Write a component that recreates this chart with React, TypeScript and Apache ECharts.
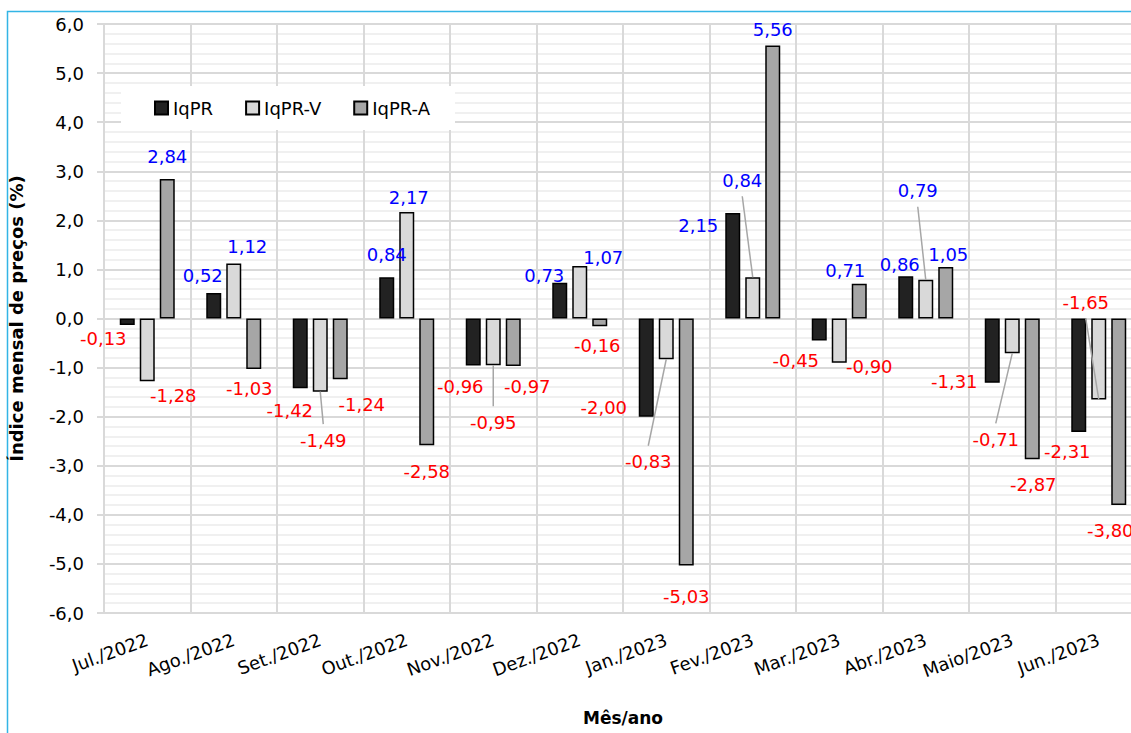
import React, { useEffect, useRef } from 'react';
import * as echarts from 'echarts';

// ---------- data ----------
const MONTHS = [
  'Jul./2022', 'Ago./2022', 'Set./2022', 'Out./2022', 'Nov./2022', 'Dez./2022',
  'Jan./2023', 'Fev./2023', 'Mar./2023', 'Abr./2023', 'Maio/2023', 'Jun./2023',
];
const IQPR = [-0.13, 0.52, -1.42, 0.84, -0.96, 0.73, -2.0, 2.15, -0.45, 0.86, -1.31, -2.31];
const IQPR_V = [-1.28, 1.12, -1.49, 2.17, -0.95, 1.07, -0.83, 0.84, -0.9, 0.79, -0.71, -1.65];
const IQPR_A = [2.84, -1.03, -1.24, -2.58, -0.97, -0.16, -5.03, 5.56, 0.71, 1.05, -2.87, -3.8];
const SERIES_NAMES = ['IqPR', 'IqPR-V', 'IqPR-A'];
const Y_MIN = -6;
const Y_MAX = 6;
const Y_STEP = 1;
// indices of IqPR-V labels that carry a leader line
const LEADERS_V = [2, 4, 6, 7, 9, 10, 11];

// ---------- label placement (style, pixel offsets from default label spot) ----------
const OFF_0 = [[-24, 0], [-11, -3.5], [-10.5, 8], [0, -9], [-13, 6.5], [-15.5, 7], [-42.5, -23], [-34.5, 27], [-23.5, 6], [-6, 2], [-38, -15], [-11.5, 6]];
const OFF_1 = [[26, 0], [13.5, -3.5], [3, 34.5], [2, 0], [0, 43], [23.5, 6], [-18, 88.5], [-10.5, -83], [30, -10], [-8, -75], [-16.5, 72], [-13, -111]];
const OFF_2 = [[0, -9], [-4.5, 5.5], [21.5, 11.5], [0, 12.5], [14, 6], [-2.5, 5.5], [0, 17], [0, -2.5], [-14, 1], [2.5, 2], [1, 11.5], [-8.5, 11]];

const FONT = '"DejaVu Sans", Verdana, sans-serif';
const LABEL_FS = 18;
const LABEL_DIST = 5;
const BLUE = '#0000ff';
const RED = '#ff0000';
const GRID_C = '#d9d9d9';

const fmt2 = (v: number) => v.toFixed(2).replace('.', ',');
const fmt1 = (v: number) => v.toFixed(1).replace('.', ',');

function barSeries(name: string, values: number[], offs: number[][], color: string) {
  return {
    name,
    type: 'bar',
    barWidth: 15,
    barGap: '33.33%',
    z: 2,
    itemStyle: { color, borderColor: '#000', borderWidth: 1.5 },
    label: {
      show: true,
      fontSize: LABEL_FS,
      fontFamily: FONT,
      distance: LABEL_DIST,
      formatter: (p: any) => fmt2(Number(p.value)),
    },
    data: values.map((v, i) => ({
      value: v,
      label: {
        position: v >= 0 ? 'top' : 'bottom',
        color: v >= 0 ? BLUE : RED,
        offset: offs[i],
      },
    })),
  };
}

export default function App() {
  const ref = useRef<HTMLDivElement>(null);

  useEffect(() => {
    if (!ref.current) return;
    const chart = echarts.init(ref.current, undefined, { renderer: 'svg' });

    const leaderSeries = {
      type: 'custom',
      z: 3,
      silent: true,
      clip: false,
      data: LEADERS_V.map((i) => [i, IQPR_V[i]]),
      renderItem: (_params: any, api: any) => {
        const i = api.value(0);
        const v = api.value(1);
        const p = api.coord([i, v]);
        const [dx, dy] = OFF_1[i];
        const dir = v >= 0 ? -1 : 1;
        const cy = p[1] + dir * (LABEL_DIST + LABEL_FS / 2) + dy;
        const cx = p[0] + dx;
        const ey = cy > p[1] ? cy - 16 : cy + 16;
        return {
          type: 'line',
          shape: { x1: p[0], y1: p[1], x2: cx, y2: ey },
          style: { stroke: '#a6a6a6', lineWidth: 1.5 },
        };
      },
    };

    chart.setOption({
      animation: false,
      backgroundColor: '#fff',
      textStyle: { fontFamily: FONT },
      graphic: [
        {
          type: 'rect',
          silent: true,
          z: -1,
          shape: { x: 7.5, y: 11.5, width: 1400, height: 900 },
          style: { fill: 'none', stroke: '#33b5e5', lineWidth: 1.5 },
        },
      ],
      grid: { left: 104, right: -11, top: 24, bottom: 120, outerBoundsMode: 'none' },
      legend: {
        data: SERIES_NAMES,
        left: 121,
        top: 86,
        backgroundColor: '#fff',
        padding: [13, 25, 13, 33],
        itemGap: 32,
        itemWidth: 13,
        itemHeight: 13,
        icon: 'rect',
        textStyle: { fontSize: 18, color: '#000', fontFamily: FONT },
      },
      xAxis: {
        type: 'category',
        data: MONTHS,
        axisLine: { show: false, onZero: false },
        axisTick: { show: false },
        splitLine: { show: true, interval: 0, lineStyle: { color: GRID_C, width: 2 } },
        axisLabel: { interval: 0, rotate: 20, fontSize: 18, color: '#000', margin: 26, fontFamily: FONT },
        name: 'Mês/ano',
        nameLocation: 'middle',
        nameGap: 96,
        nameTextStyle: { fontSize: 17, fontWeight: 'bold', color: '#000', fontFamily: FONT },
      },
      yAxis: {
        type: 'value',
        min: Y_MIN,
        max: Y_MAX,
        interval: Y_STEP,
        axisLine: { show: true, lineStyle: { color: GRID_C, width: 2 } },
        axisTick: { show: true, length: 7, lineStyle: { color: GRID_C, width: 2 } },
        axisLabel: { fontSize: 18, color: '#000', margin: 20, fontFamily: FONT, formatter: (v: number) => fmt1(v) },
        splitLine: { show: true, lineStyle: { color: GRID_C, width: 2 } },
        minorTick: { show: false, splitNumber: 5 },
        minorSplitLine: { show: true, lineStyle: { color: '#ebebeb', width: 1.5 } },
        name: 'Índice mensal de preços (%)',
        nameLocation: 'middle',
        nameGap: 79,
        nameTextStyle: { fontSize: 18, fontWeight: 'bold', color: '#000', fontFamily: FONT },
      },
      series: [
        barSeries(SERIES_NAMES[0], IQPR, OFF_0, '#222222'),
        barSeries(SERIES_NAMES[1], IQPR_V, OFF_1, '#d9d9d9'),
        barSeries(SERIES_NAMES[2], IQPR_A, OFF_2, '#a6a6a6'),
        leaderSeries,
      ],
    });

    return () => chart.dispose();
  }, []);

  return (
    <div
      ref={ref}
      style={{ position: 'absolute', left: 0, top: 0, width: 1131, height: 733 }}
    />
  );
}
